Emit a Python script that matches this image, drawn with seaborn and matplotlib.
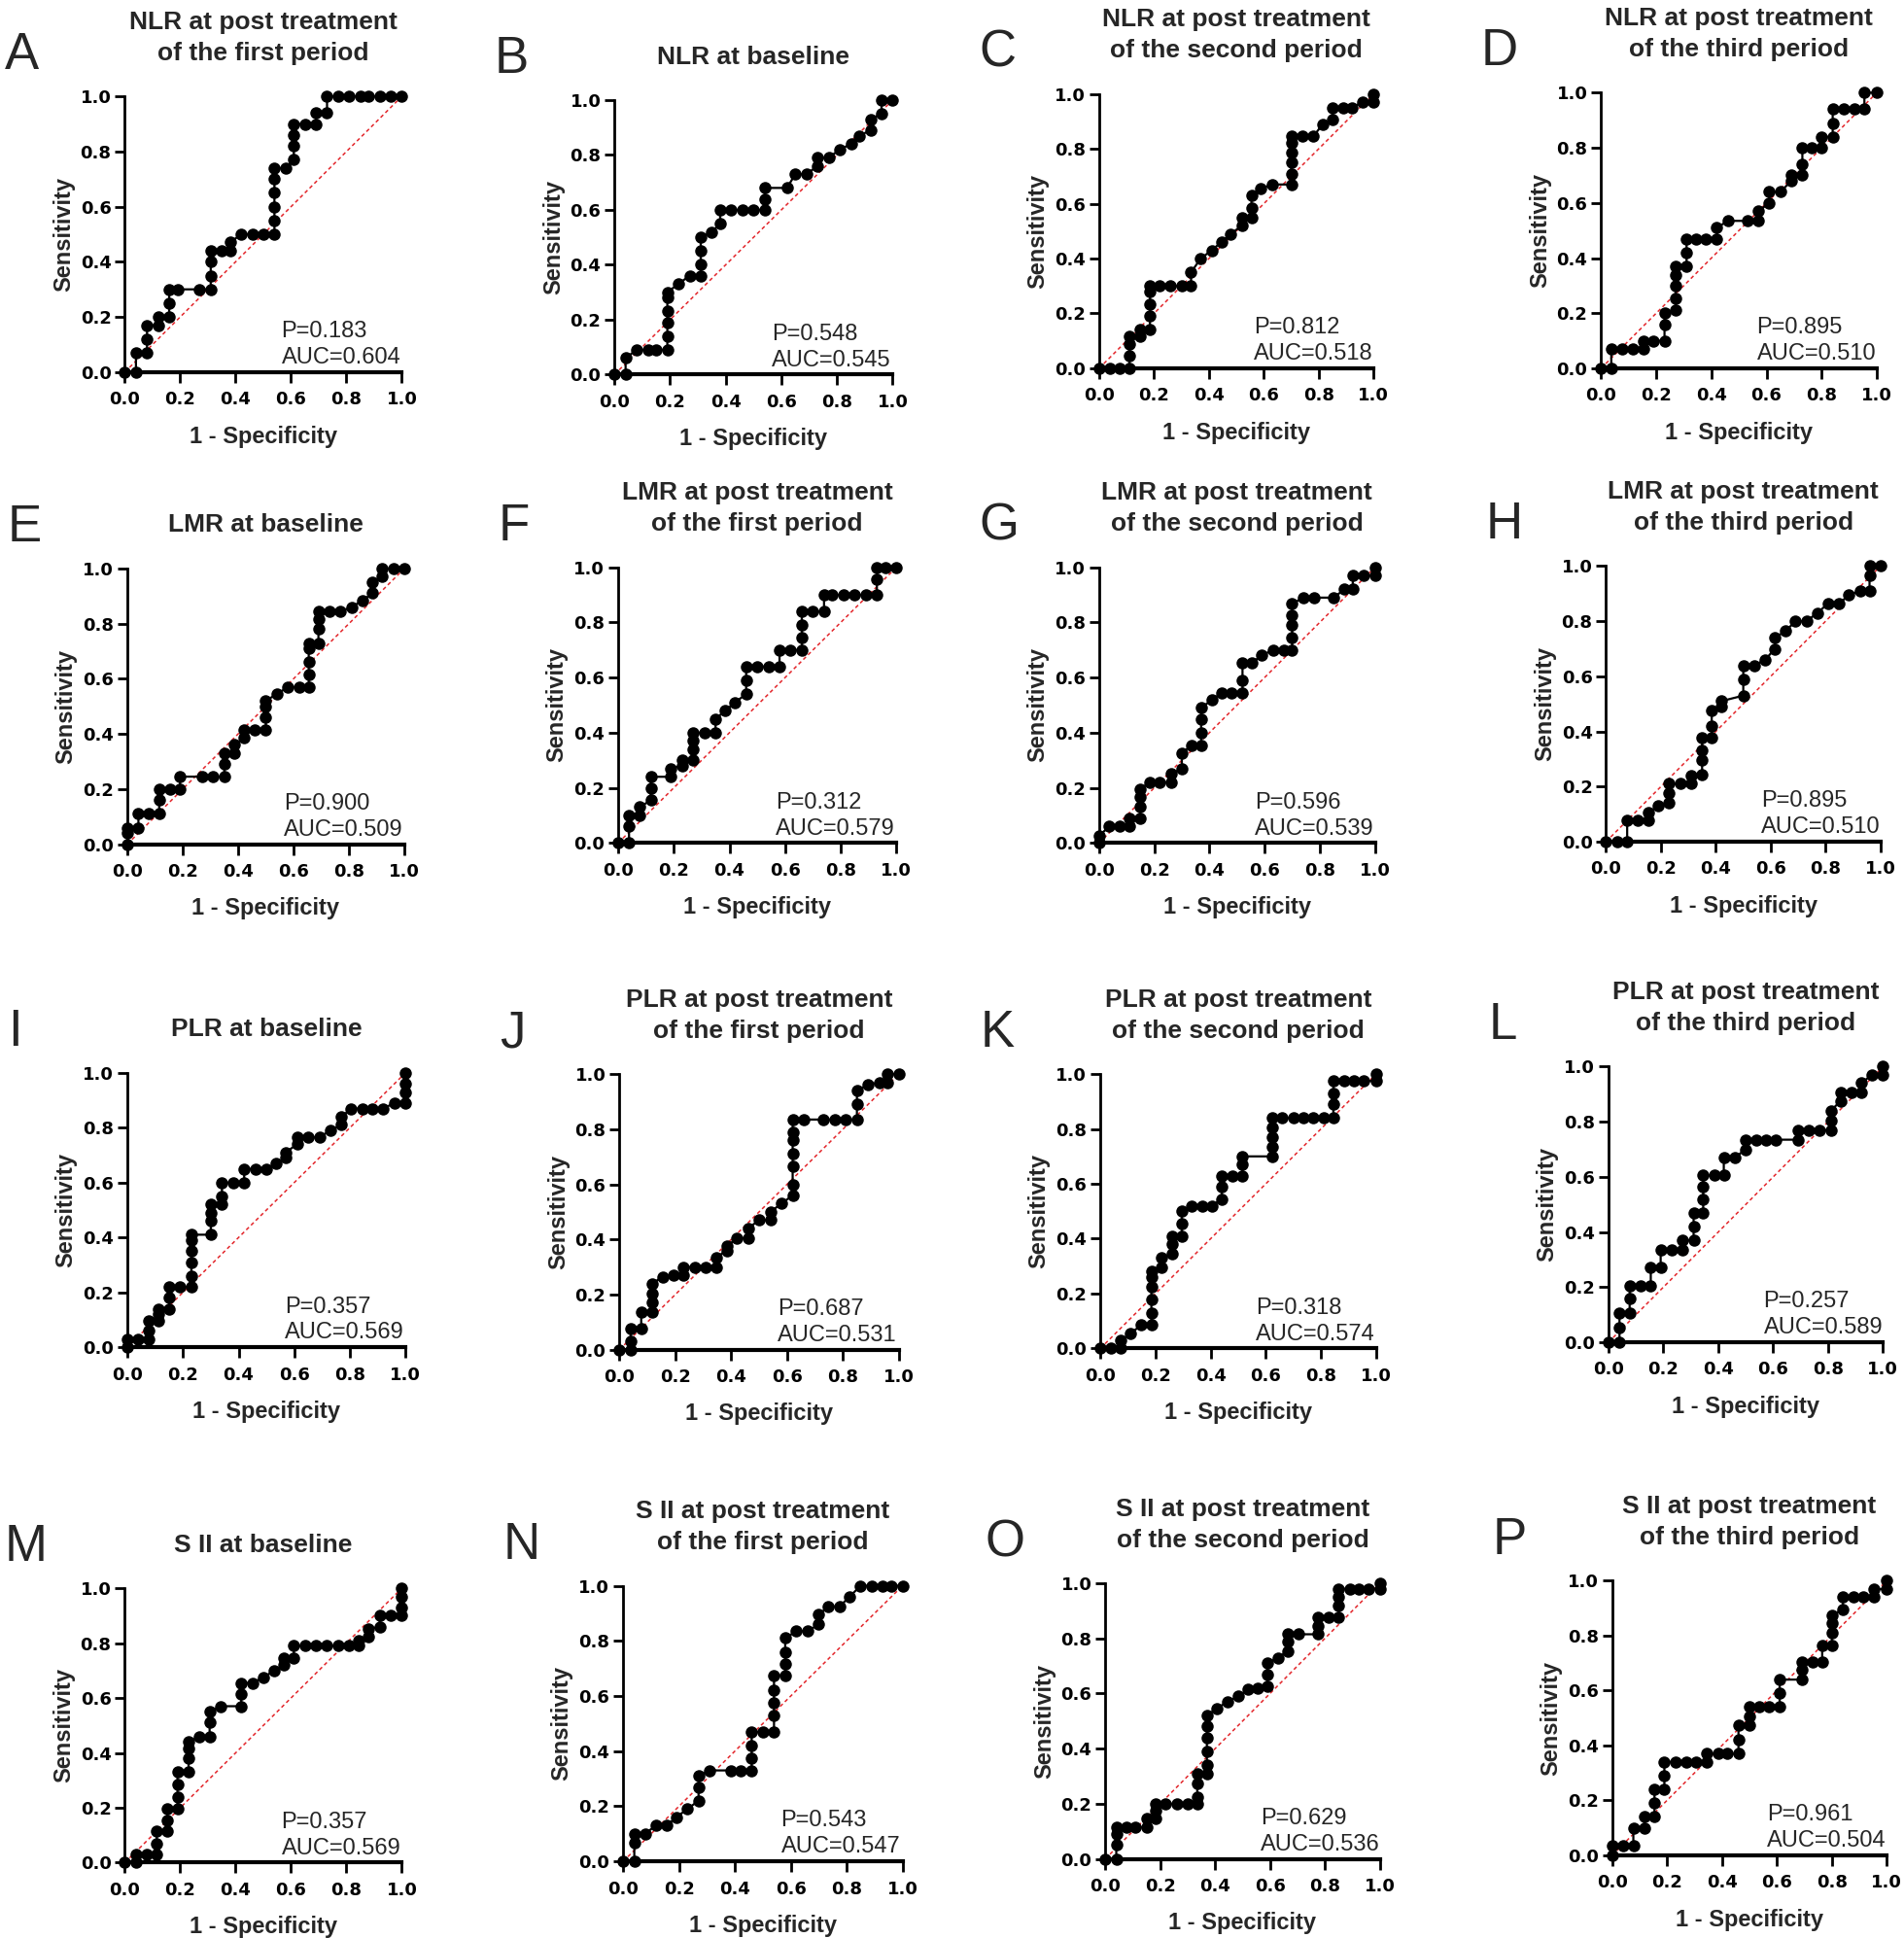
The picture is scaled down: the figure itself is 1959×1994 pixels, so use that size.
import matplotlib
matplotlib.use("Agg")
import matplotlib.pyplot as plt
import seaborn as sns
import pandas as pd

# ROC points (1 - specificity, sensitivity)
a_pts = [(0, 0), (.04, 0), (.04, .07), (.08, .07), (.08, .12), (.08, .17), (.12, .17), (.12, .20), (.16, .20),
         (.16, .25), (.16, .30), (.19, .30), (.27, .30), (.31, .30), (.31, .35), (.31, .40), (.31, .44), (.35, .44),
         (.38, .44), (.38, .47), (.42, .50), (.46, .50), (.50, .50), (.54, .50), (.54, .55), (.54, .60), (.54, .65),
         (.54, .70), (.54, .74), (.58, .74), (.61, .77), (.61, .82), (.61, .86), (.61, .90), (.65, .90), (.69, .90),
         (.69, .94), (.73, .94), (.73, 1), (.77, 1), (.81, 1), (.85, 1), (.88, 1), (.92, 1), (.96, 1), (1, 1)]
b_pts = [(0, 0), (.04, 0), (.04, .06), (.08, .09), (.12, .09), (.15, .09), (.19, .09), (.19, .14), (.19, .19),
         (.19, .23), (.19, .28), (.19, .30), (.23, .33), (.27, .36), (.31, .36), (.31, .40), (.31, .45), (.31, .50),
         (.35, .52), (.38, .55), (.38, .60), (.42, .60), (.46, .60), (.50, .60), (.54, .60), (.54, .64), (.54, .68),
         (.62, .68), (.65, .73), (.69, .73), (.73, .76), (.73, .79), (.77, .79), (.81, .82), (.85, .84), (.88, .87),
         (.92, .89), (.92, .93), (.96, .95), (.96, 1), (1, 1)]
c_pts = [(0, 0), (.04, 0), (.075, 0), (.11, 0), (.11, .045), (.11, .09), (.11, .115), (.15, .115), (.15, .14),
         (.185, .14), (.185, .19), (.185, .235), (.185, .28), (.185, .30), (.22, .30), (.26, .30), (.30, .30),
         (.335, .30), (.335, .35), (.37, .40), (.41, .43), (.445, .46), (.48, .49), (.52, .52), (.52, .55),
         (.555, .55), (.555, .585), (.555, .63), (.59, .655), (.63, .67), (.70, .67), (.70, .71), (.70, .75),
         (.70, .785), (.70, .82), (.70, .845), (.74, .845), (.78, .845), (.815, .89), (.85, .905), (.85, .95),
         (.89, .95), (.92, .95), (.96, .97), (1, .97), (1, 1)]
d_pts = [(0, 0), (.037, 0), (.037, .07), (.077, .07), (.115, .07), (.154, .07), (.154, .10), (.19, .10), (.23, .10),
         (.23, .16), (.23, .20), (.27, .21), (.27, .255), (.27, .30), (.27, .34), (.27, .37), (.31, .37), (.31, .42),
         (.31, .47), (.345, .47), (.38, .47), (.42, .47), (.42, .51), (.46, .535), (.53, .535), (.57, .535),
         (.57, .57), (.61, .60), (.61, .64), (.65, .64), (.69, .68), (.69, .70), (.73, .70), (.73, .74), (.73, .80),
         (.765, .80), (.80, .80), (.80, .84), (.84, .84), (.84, .89), (.84, .94), (.88, .94), (.92, .94),
         (.955, .94), (.955, 1), (1, 1)]
e_pts = [(0, 0), (0, .04), (0, .06), (.04, .06), (.04, .11), (.077, .11), (.115, .11), (.115, .16), (.115, .20),
         (.153, .20), (.19, .20), (.19, .245), (.27, .245), (.31, .245), (.35, .245), (.35, .29), (.35, .33),
         (.386, .33), (.386, .36), (.42, .385), (.42, .415), (.46, .415), (.50, .415), (.50, .46), (.50, .50),
         (.50, .52), (.54, .545), (.58, .57), (.62, .57), (.655, .57), (.655, .615), (.655, .66), (.655, .71),
         (.655, .73), (.69, .73), (.69, .78), (.69, .815), (.69, .845), (.73, .845), (.77, .845), (.81, .86),
         (.85, .885), (.885, .91), (.885, .95), (.92, .97), (.92, 1), (.96, 1), (1, 1)]
f_pts = [(0, 0), (.039, 0), (.039, .06), (.039, .10), (.078, .10), (.078, .13), (.117, .155), (.117, .20),
         (.117, .24), (.19, .24), (.19, .27), (.23, .28), (.23, .30), (.27, .30), (.27, .34), (.27, .37), (.27, .40),
         (.31, .40), (.35, .40), (.35, .45), (.385, .48), (.42, .51), (.46, .54), (.46, .59), (.46, .64), (.50, .64),
         (.54, .64), (.58, .64), (.58, .70), (.62, .70), (.66, .70), (.66, .745), (.66, .79), (.66, .84), (.70, .84),
         (.74, .84), (.74, .90), (.77, .90), (.81, .90), (.85, .90), (.89, .90), (.93, .90), (.93, .955), (.93, 1),
         (.96, 1), (1, 1)]
g_pts = [(0, 0), (0, .026), (.037, .06), (.075, .06), (.11, .06), (.11, .09), (.148, .09), (.148, .13), (.148, .165),
         (.148, .196), (.185, .22), (.22, .22), (.26, .22), (.26, .25), (.30, .27), (.30, .325), (.335, .355),
         (.37, .355), (.37, .40), (.37, .45), (.37, .49), (.41, .52), (.445, .545), (.48, .545), (.52, .545),
         (.52, .59), (.52, .655), (.555, .655), (.59, .68), (.63, .70), (.67, .70), (.70, .70), (.70, .745),
         (.70, .79), (.70, .825), (.70, .867), (.74, .89), (.78, .89), (.85, .89), (.89, .92), (.92, .92),
         (.92, .97), (.96, .97), (1, .97), (1, 1)]
h_pts = [(0, 0), (.04, 0), (.077, 0), (.077, .076), (.116, .076), (.154, .076), (.154, .105), (.19, .13), (.23, .14),
         (.23, .175), (.23, .21), (.27, .21), (.31, .21), (.31, .24), (.35, .245), (.35, .295), (.35, .33),
         (.35, .376), (.385, .376), (.385, .42), (.385, .475), (.42, .49), (.42, .51), (.50, .53), (.50, .59),
         (.50, .64), (.54, .64), (.58, .66), (.615, .70), (.615, .74), (.655, .765), (.69, .80), (.73, .80),
         (.77, .83), (.81, .865), (.85, .865), (.885, .895), (.925, .91), (.96, .91), (.96, .965), (.96, 1), (1, 1)]
i_pts = [(0, 0), (0, .03), (.04, .03), (.076, .03), (.076, .06), (.076, .095), (.11, .095), (.11, .12), (.11, .14),
         (.15, .14), (.15, .18), (.15, .22), (.19, .22), (.23, .22), (.23, .26), (.23, .31), (.23, .35), (.23, .39),
         (.23, .41), (.30, .41), (.30, .46), (.30, .49), (.30, .52), (.34, .52), (.34, .55), (.34, .60), (.38, .60),
         (.42, .60), (.42, .65), (.46, .65), (.50, .65), (.535, .67), (.57, .69), (.57, .71), (.61, .74),
         (.61, .765), (.65, .765), (.69, .765), (.73, .79), (.77, .81), (.77, .84), (.805, .87), (.845, .87),
         (.88, .87), (.92, .87), (.96, .89), (1, .89), (1, .93), (1, .96), (1, 1)]
j_pts = [(0, 0), (.04, 0), (.04, .03), (.04, .076), (.078, .076), (.078, .135), (.117, .135), (.117, .17),
         (.117, .205), (.117, .24), (.156, .265), (.195, .27), (.23, .27), (.23, .30), (.27, .30), (.31, .30),
         (.346, .30), (.346, .335), (.385, .36), (.385, .375), (.42, .405), (.46, .405), (.46, .44), (.50, .47),
         (.54, .47), (.54, .50), (.58, .53), (.62, .56), (.62, .60), (.62, .665), (.62, .71), (.62, .76), (.62, .79),
         (.62, .835), (.66, .835), (.73, .835), (.77, .835), (.81, .835), (.85, .835), (.85, .89), (.85, .94),
         (.89, .96), (.93, .97), (.96, .97), (.96, 1), (1, 1)]
k_pts = [(0, 0), (.037, 0), (.075, 0), (.075, .03), (.11, .055), (.148, .085), (.185, .085), (.185, .13),
         (.185, .18), (.185, .225), (.185, .26), (.185, .28), (.22, .295), (.22, .33), (.26, .345), (.26, .38),
         (.26, .41), (.295, .41), (.295, .455), (.295, .50), (.33, .52), (.37, .52), (.405, .52), (.44, .545),
         (.44, .59), (.44, .63), (.48, .63), (.515, .63), (.515, .67), (.515, .70), (.625, .70), (.625, .735),
         (.625, .77), (.625, .805), (.625, .84), (.66, .84), (.70, .84), (.735, .84), (.77, .84), (.81, .84),
         (.845, .84), (.845, .89), (.845, .93), (.845, .975), (.885, .975), (.92, .975), (.955, .975), (1, .975),
         (1, 1)]
l_pts = [(0, 0), (.04, 0), (.04, .053), (.04, .106), (.077, .106), (.077, .16), (.077, .206), (.116, .206),
         (.154, .206), (.154, .27), (.19, .27), (.19, .335), (.23, .335), (.27, .335), (.27, .37), (.31, .37),
         (.31, .42), (.31, .47), (.345, .47), (.345, .52), (.345, .565), (.345, .605), (.385, .605), (.42, .605),
         (.42, .67), (.46, .67), (.50, .70), (.50, .735), (.54, .735), (.575, .735), (.61, .735), (.69, .735),
         (.69, .77), (.73, .77), (.77, .77), (.81, .77), (.81, .805), (.81, .84), (.845, .875), (.845, .905),
         (.885, .905), (.92, .905), (.92, .94), (.96, .97), (1, .97), (1, 1)]
m_pts = [(0, 0), (.04, 0), (.04, .03), (.078, .03), (.115, .03), (.115, .07), (.115, .115), (.153, .115),
         (.153, .155), (.153, .195), (.19, .195), (.19, .24), (.19, .285), (.19, .33), (.23, .33), (.23, .38),
         (.23, .415), (.23, .44), (.27, .46), (.306, .46), (.306, .51), (.306, .55), (.345, .57), (.42, .57),
         (.42, .615), (.42, .655), (.46, .655), (.50, .675), (.54, .70), (.575, .72), (.575, .745), (.61, .745),
         (.61, .79), (.65, .79), (.69, .79), (.73, .79), (.77, .79), (.81, .79), (.845, .79), (.845, .81),
         (.88, .825), (.88, .85), (.92, .86), (.92, .90), (.96, .90), (1, .90), (1, .93), (1, .97), (1, 1)]
n_pts = [(0, 0), (.04, 0), (.04, .068), (.04, .10), (.078, .10), (.117, .13), (.156, .13), (.19, .16), (.23, .19),
         (.27, .22), (.27, .27), (.27, .31), (.31, .33), (.385, .33), (.42, .33), (.46, .33), (.46, .375),
         (.46, .42), (.46, .47), (.50, .47), (.54, .47), (.54, .53), (.54, .575), (.54, .62), (.54, .675),
         (.58, .675), (.58, .715), (.58, .76), (.58, .81), (.62, .835), (.66, .835), (.70, .86), (.70, .895),
         (.735, .925), (.775, .925), (.81, .96), (.85, 1), (.89, 1), (.93, 1), (.96, 1), (1, 1)]
o_pts = [(0, 0), (.04, 0), (.04, .05), (.04, .09), (.04, .115), (.077, .115), (.11, .115), (.15, .115), (.15, .145),
         (.185, .145), (.185, .175), (.185, .20), (.22, .20), (.26, .20), (.30, .20), (.335, .20), (.335, .225),
         (.335, .275), (.335, .31), (.37, .31), (.37, .34), (.37, .39), (.37, .44), (.37, .48), (.37, .52),
         (.405, .545), (.445, .57), (.485, .59), (.52, .615), (.555, .62), (.59, .625), (.59, .67), (.59, .71),
         (.63, .73), (.665, .755), (.665, .79), (.665, .815), (.705, .815), (.775, .815), (.775, .845),
         (.775, .875), (.815, .875), (.85, .875), (.85, .92), (.85, .95), (.85, .98), (.89, .98), (.925, .98),
         (.96, .98), (1, .98), (1, 1)]
p_pts = [(0, 0), (0, .033), (.04, .033), (.077, .033), (.077, .10), (.117, .10), (.117, .14), (.154, .14),
         (.154, .19), (.154, .24), (.19, .24), (.19, .29), (.19, .34), (.23, .34), (.27, .34), (.306, .34),
         (.345, .34), (.345, .37), (.385, .37), (.42, .37), (.46, .37), (.46, .42), (.46, .475), (.50, .475),
         (.50, .505), (.50, .54), (.535, .54), (.57, .54), (.61, .54), (.61, .59), (.61, .64), (.69, .64),
         (.69, .675), (.69, .705), (.73, .705), (.765, .705), (.765, .765), (.80, .765), (.80, .81), (.80, .845),
         (.80, .875), (.84, .895), (.84, .94), (.88, .94), (.915, .94), (.955, .94), (.955, .97), (1, .97), (1, 1)]

curves = [a_pts, b_pts, c_pts, d_pts, e_pts, f_pts, g_pts, h_pts,
          i_pts, j_pts, k_pts, l_pts, m_pts, n_pts, o_pts, p_pts]

letters = list("ABCDEFGHIJKLMNOP")
titles = ["NLR at post treatment\nof the first period", "NLR at baseline",
          "NLR at post treatment\nof the second period", "NLR at post treatment\nof the third period",
          "LMR at baseline", "LMR at post treatment\nof the first period",
          "LMR at post treatment\nof the second period", "LMR at post treatment\nof the third period",
          "PLR at baseline", "PLR at post treatment\nof the first period",
          "PLR at post treatment\nof the second period", "PLR at post treatment\nof the third period",
          "S II at baseline", "S II at post treatment\nof the first period",
          "S II at post treatment\nof the second period", "S II at post treatment\nof the third period"]
p_values = ["0.183", "0.548", "0.812", "0.895", "0.900", "0.312", "0.596", "0.895",
            "0.357", "0.687", "0.318", "0.257", "0.357", "0.543", "0.629", "0.961"]
auc_values = ["0.604", "0.545", "0.518", "0.510", "0.509", "0.579", "0.539", "0.510",
              "0.569", "0.531", "0.574", "0.589", "0.569", "0.547", "0.536", "0.504"]
ticks = [0.0, 0.2, 0.4, 0.6, 0.8, 1.0]
tick_labels = ["0.0", "0.2", "0.4", "0.6", "0.8", "1.0"]
chance = [0, 1]

# axes boxes in reference pixels (1540 x 1568 view): x0, x1, y of 0, y of 1
boxes = [(101, 325, 301, 78), (497, 722, 303, 81), (889, 1111, 298, 76), (1295, 1518, 298, 75),
         (103, 327, 683, 460), (500, 725, 682, 459), (889, 1112, 682, 459), (1299, 1521, 681, 458),
         (103, 328, 1090, 868), (501, 727, 1092, 869), (890, 1113, 1091, 869), (1301, 1523, 1086, 863),
         (101, 325, 1507, 1285), (504, 730, 1506, 1283), (894, 1116, 1504, 1281), (1304, 1526, 1501, 1279)]
W, H = 1540, 1568

sns.set_theme(style="ticks")
plt.rcParams['font.family'] = ['Liberation Sans', 'DejaVu Sans']

fig = plt.figure(figsize=(19.59, 19.94), dpi=100)

for i, pts in enumerate(curves):
    x0, x1, yb, yt = boxes[i]
    ax = fig.add_axes([x0 / W, 1 - yb / H, (x1 - x0) / W, (yb - yt) / H])
    df = pd.DataFrame(pts, columns=["fpr", "tpr"])

    # chance line
    ax.plot(chance, chance, color="#e3262b", lw=1.1, ls=(0, (2.5, 2)), zorder=1)
    sns.lineplot(data=df, x="fpr", y="tpr", sort=False, estimator=None, color="black",
                 lw=1.6, marker="o", markersize=9, markeredgewidth=0, clip_on=False,
                 ax=ax, zorder=3)

    ax.set_xlim(0, 1)
    ax.set_ylim(0, 1)
    ax.set_xticks(ticks)
    ax.set_yticks(ticks)
    ax.set_xticklabels(tick_labels, fontsize=13, fontweight="bold", family="DejaVu Sans")
    ax.set_yticklabels(tick_labels, fontsize=13, fontweight="bold", family="DejaVu Sans")
    ax.tick_params(axis="x", width=2, length=8, pad=6, colors="black")
    ax.tick_params(axis="y", width=2, length=7, pad=3, colors="black")
    ax.spines['top'].set_visible(False)
    ax.spines['right'].set_visible(False)
    ax.spines['left'].set_linewidth(2)
    ax.spines['bottom'].set_linewidth(3)
    ax.spines['left'].set_color("black")
    ax.spines['bottom'].set_color("black")

    ax.set_xlabel("1 - Specificity", fontsize=17, fontweight="bold", labelpad=12.5)
    ax.set_ylabel("Sensitivity", fontsize=17, fontweight="bold", labelpad=4)
    ax.set_title(titles[i], fontsize=19, fontweight="bold", pad=27, linespacing=1.42)

    ax.text(0.565, 0.147, "P=" + p_values[i], transform=ax.transAxes, fontsize=17, va="center")
    ax.text(0.565, 0.052, "AUC=" + auc_values[i], transform=ax.transAxes, fontsize=17, va="center")

    fig.text((x0 - 97) / W, 1 - (yt - 33) / H, letters[i], fontsize=38, va="center", ha="left")

fig.savefig("out.png", dpi=100, facecolor="white")
